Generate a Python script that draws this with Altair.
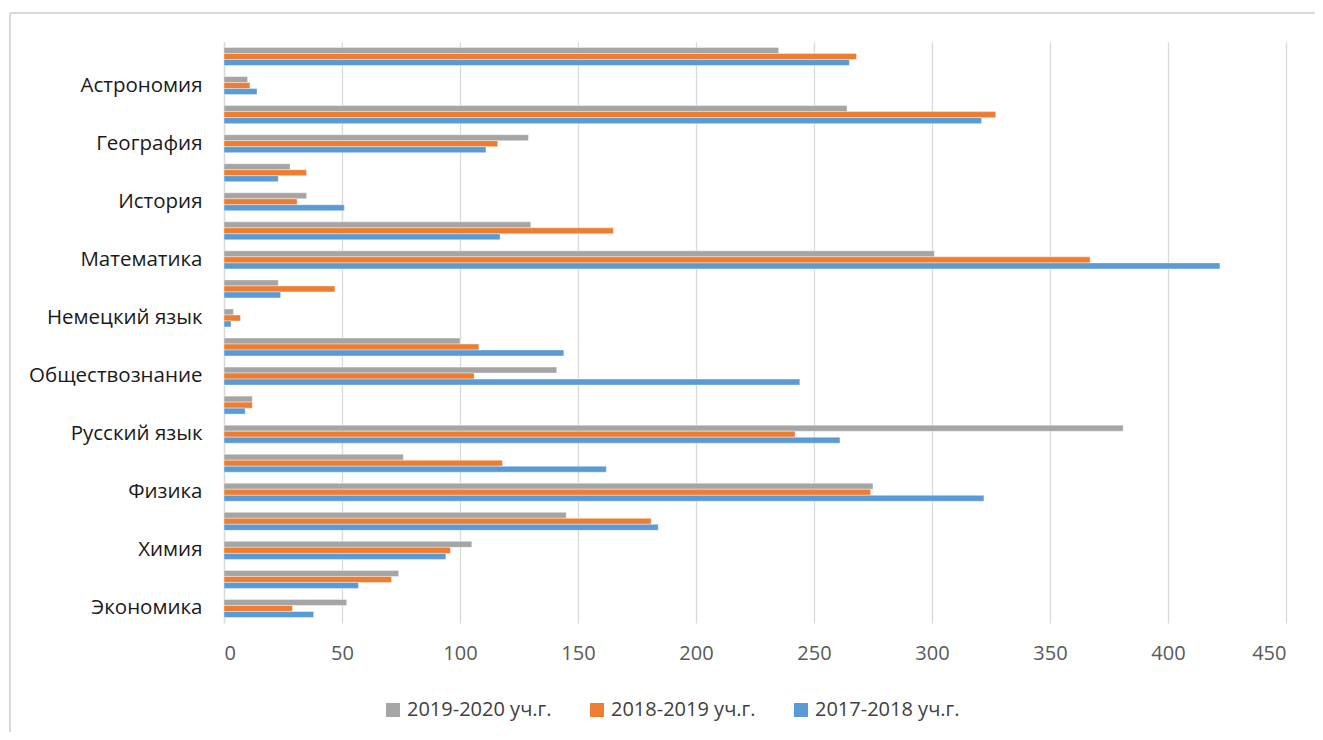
import altair as alt
import pandas as pd

subjects = [
    "Английский язык", "Астрономия", "Биология", "География", "Информатика",
    "История", "Литература", "Математика", "МХК", "Немецкий язык",
    "ОБЖ", "Обществознание", "Право", "Русский язык", "Технология",
    "Физика", "Физическая культура", "Химия", "Экология", "Экономика",
]
labeled = ["Астрономия", "География", "История", "Математика", "Немецкий язык",
           "Обществознание", "Русский язык", "Физика", "Химия", "Экономика"]

years = ["2019-2020 уч.г.", "2018-2019 уч.г.", "2017-2018 уч.г."]
colors = ["#A5A5A5", "#ED7D31", "#5B9BD5"]

v2019_2020 = [235, 10, 264, 129, 28, 35, 130, 301, 23, 4, 100, 141, 12, 381, 76, 275, 145, 105, 74, 52]
v2018_2019 = [268, 11, 327, 116, 35, 31, 165, 367, 47, 7, 108, 106, 12, 242, 118, 274, 181, 96, 71, 29]
v2017_2018 = [265, 14, 321, 111, 23, 51, 117, 422, 24, 3, 144, 244, 9, 261, 162, 322, 184, 94, 57, 38]

x_ticks = [0, 50, 100, 150, 200, 250, 300, 350, 400, 450]

rows = []
for yr, vals in zip(years, [v2019_2020, v2018_2019, v2017_2018]):
    for s, v in zip(subjects, vals):
        rows.append({"subject": s, "year": yr, "value": v})
df = pd.DataFrame(rows)

FONT = "Open Sans"

bars = alt.Chart(df).mark_bar(stroke="white", strokeWidth=0.4).encode(
    x=alt.X("value:Q",
            scale=alt.Scale(domain=[0, 450], nice=False),
            axis=alt.Axis(values=x_ticks, title=None, grid=True, gridColor="#D9D9D9",
                          gridWidth=1.3, domain=False, ticks=False, labelFontSize=20,
                          labelColor="#595959", labelFont=FONT, labelPadding=20)),
    y=alt.Y("subject:N",
            scale=alt.Scale(domain=subjects, paddingInner=0.38, paddingOuter=0.19),
            axis=alt.Axis(values=labeled, title=None, ticks=False, domain=True,
                          domainColor="#D9D9D9", domainWidth=1.3, labelFontSize=20.5,
                          labelColor="#1a1a1a", labelFont=FONT, labelPadding=22,
                          labelLimit=300)),
    yOffset=alt.YOffset("year:N", scale=alt.Scale(domain=years)),
    color=alt.Color("year:N",
                    scale=alt.Scale(domain=years, range=colors),
                    legend=alt.Legend(title=None, orient="none", direction="horizontal",
                                      legendX=159, legendY=658, symbolType="square",
                                      symbolSize=196, symbolStrokeWidth=0,
                                      labelFontSize=20, labelFont=FONT,
                                      labelColor="#404040", labelOffset=4,
                                      columnPadding=35)),
)

# light chart-area frame (decoration only, like the Excel chart border)
frame_v = alt.Chart(df).mark_rule(color="#D9D9D9", strokeWidth=1.3).encode(
    x=alt.value(-214), y=alt.value(-29), y2=alt.value(720)
)
frame_h = alt.Chart(df).mark_rule(color="#D9D9D9", strokeWidth=1.3).encode(
    x=alt.value(-214), x2=alt.value(1110), y=alt.value(-29)
)

chart = alt.layer(frame_v, frame_h, bars).properties(
    width=1062,
    height=581,
    padding={"left": 216, "top": 34, "right": 29, "bottom": 109},
    autosize=alt.AutoSizeParams(type="none"),
).configure_view(stroke=None)

chart.save("out.html", embed_options={"renderer": "svg", "actions": False})
